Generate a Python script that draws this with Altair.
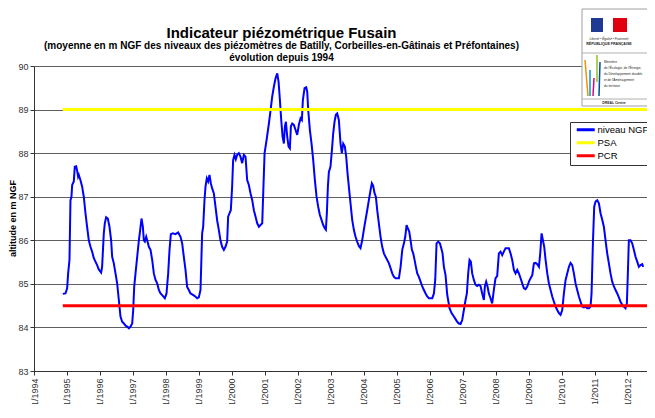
import altair as alt
import pandas as pd
from datetime import datetime

# ---- data (decimal year, level in m NGF) ----
years = [
    1994.874, 1994.955, 1995.006, 1995.036, 1995.077, 1995.107, 1995.137, 1995.158, 1995.208, 1995.238,
    1995.279, 1995.309, 1995.339, 1995.360, 1995.410, 1995.461, 1995.511, 1995.562, 1995.612, 1995.663,
    1995.714, 1995.764, 1995.815, 1995.865, 1995.916, 1995.966, 1996.037, 1996.067, 1996.118, 1996.148,
    1996.189, 1996.239, 1996.290, 1996.340, 1996.371, 1996.421, 1996.472, 1996.522, 1996.573, 1996.623,
    1996.674, 1996.725, 1996.775, 1996.826, 1996.876, 1996.927, 1996.977, 1997.008, 1997.038, 1997.078,
    1997.129, 1997.180, 1997.220, 1997.260, 1997.301, 1997.331, 1997.361, 1997.402, 1997.442, 1997.483,
    1997.533, 1997.584, 1997.634, 1997.685, 1997.736, 1997.786, 1997.837, 1997.887, 1997.968, 1998.019,
    1998.069, 1998.110, 1998.150, 1998.211, 1998.292, 1998.372, 1998.443, 1998.494, 1998.544, 1998.595,
    1998.645, 1998.696, 1998.747, 1998.797, 1998.878, 1998.949, 1998.999, 1999.050, 1999.100, 1999.131,
    1999.171, 1999.202, 1999.242, 1999.282, 1999.323, 1999.363, 1999.404, 1999.454, 1999.505, 1999.555,
    1999.606, 1999.656, 1999.707, 1999.758, 1999.808, 1999.859, 1999.889, 1999.929, 1999.970, 2000.010,
    2000.040, 2000.081, 2000.121, 2000.162, 2000.213, 2000.263, 2000.314, 2000.364, 2000.415, 2000.465,
    2000.516, 2000.566, 2000.618, 2000.668, 2000.719, 2000.769, 2000.820, 2000.870, 2000.921, 2000.951,
    2000.992, 2001.052, 2001.123, 2001.174, 2001.224, 2001.275, 2001.325, 2001.376, 2001.416, 2001.457,
    2001.497, 2001.538, 2001.578, 2001.608, 2001.639, 2001.679, 2001.720, 2001.760, 2001.790, 2001.831,
    2001.881, 2001.932, 2001.982, 2002.033, 2002.084, 2002.124, 2002.154, 2002.205, 2002.255, 2002.286,
    2002.316, 2002.367, 2002.417, 2002.468, 2002.518, 2002.569, 2002.619, 2002.670, 2002.720, 2002.771,
    2002.822, 2002.852, 2002.882, 2002.913, 2002.943, 2002.993, 2003.044, 2003.074, 2003.115, 2003.155,
    2003.196, 2003.246, 2003.297, 2003.337, 2003.378, 2003.428, 2003.469, 2003.509, 2003.549, 2003.600,
    2003.651, 2003.701, 2003.752, 2003.802, 2003.853, 2003.903, 2003.954, 2004.004, 2004.055, 2004.106,
    2004.156, 2004.207, 2004.247, 2004.287, 2004.328, 2004.368, 2004.409, 2004.459, 2004.510, 2004.560,
    2004.611, 2004.661, 2004.712, 2004.763, 2004.813, 2004.864, 2004.914, 2004.965, 2005.015, 2005.066,
    2005.117, 2005.167, 2005.218, 2005.258, 2005.298, 2005.339, 2005.379, 2005.420, 2005.460, 2005.500,
    2005.541, 2005.581, 2005.622, 2005.672, 2005.723, 2005.774, 2005.824, 2005.875, 2005.925, 2005.976,
    2006.026, 2006.077, 2006.128, 2006.168, 2006.208, 2006.259, 2006.309, 2006.350, 2006.390, 2006.431,
    2006.481, 2006.532, 2006.602, 2006.663, 2006.734, 2006.784, 2006.835, 2006.885, 2006.936, 2006.987,
    2007.037, 2007.088, 2007.128, 2007.168, 2007.209, 2007.249, 2007.290, 2007.340, 2007.391, 2007.441,
    2007.492, 2007.543, 2007.593, 2007.644, 2007.674, 2007.714, 2007.755, 2007.795, 2007.846, 2007.896,
    2007.947, 2007.998, 2008.048, 2008.099, 2008.149, 2008.200, 2008.250, 2008.301, 2008.351, 2008.402,
    2008.452, 2008.503, 2008.554, 2008.604, 2008.655, 2008.705, 2008.756, 2008.806, 2008.857, 2008.907,
    2008.958, 2009.009, 2009.059, 2009.110, 2009.160, 2009.211, 2009.261, 2009.312, 2009.352, 2009.393,
    2009.433, 2009.473, 2009.514, 2009.565, 2009.615, 2009.666, 2009.716, 2009.767, 2009.817, 2009.868,
    2009.918, 2009.969, 2010.020, 2010.070, 2010.121, 2010.171, 2010.222, 2010.272, 2010.323, 2010.373,
    2010.424, 2010.474, 2010.525, 2010.576, 2010.626, 2010.677, 2010.727, 2010.778, 2010.828, 2010.879,
    2010.909, 2010.950, 2010.990, 2011.031, 2011.081, 2011.132, 2011.182, 2011.233, 2011.283, 2011.334,
    2011.384, 2011.435, 2011.485, 2011.536, 2011.587, 2011.637, 2011.688, 2011.738, 2011.789, 2011.839,
    2011.890, 2011.940, 2011.981, 2012.011, 2012.041, 2012.092, 2012.142, 2012.193, 2012.243, 2012.294,
    2012.345, 2012.395, 2012.446, 2012.476,
]
niveau = [
    84.77, 84.78, 84.90, 85.24, 85.55, 86.92, 87.00, 87.27, 87.35, 87.69,
    87.70, 87.60, 87.46, 87.50, 87.38, 87.23, 87.00, 86.62, 86.31, 86.00,
    85.85, 85.74, 85.59, 85.51, 85.43, 85.33, 85.26, 85.39, 86.16, 86.39,
    86.53, 86.50, 86.31, 86.00, 85.62, 85.47, 85.24, 85.01, 84.63, 84.25,
    84.13, 84.09, 84.04, 84.02, 83.98, 84.02, 84.09, 84.40, 84.93, 85.24,
    85.62, 86.00, 86.24, 86.50, 86.31, 86.00, 85.97, 86.08, 85.97, 85.85,
    85.78, 85.55, 85.24, 85.09, 85.01, 84.86, 84.78, 84.74, 84.67, 84.78,
    85.24, 85.78, 86.14, 86.16, 86.14, 86.18, 86.08, 85.93, 85.62, 85.32,
    84.93, 84.86, 84.78, 84.76, 84.72, 84.67, 84.69, 84.86, 86.16, 86.31,
    86.92, 87.23, 87.42, 87.35, 87.50, 87.31, 87.19, 87.08, 86.77, 86.46,
    86.24, 86.00, 85.85, 85.78, 85.85, 85.97, 86.54, 86.62, 86.69, 87.23,
    87.84, 87.96, 87.86, 87.96, 88.00, 87.92, 87.77, 87.96, 87.92, 87.38,
    87.27, 87.08, 86.92, 86.69, 86.54, 86.39, 86.31, 86.35, 86.39, 87.08,
    88.00, 88.30, 88.68, 88.99, 89.30, 89.53, 89.72, 89.83, 89.64, 89.22,
    88.76, 88.38, 88.22, 88.61, 88.72, 88.38, 88.15, 88.11, 88.61, 88.68,
    88.65, 88.53, 88.42, 88.65, 88.80, 88.76, 89.22, 89.49, 89.51, 89.41,
    88.99, 88.53, 88.22, 87.84, 87.38, 87.00, 86.77, 86.58, 86.47, 86.35,
    86.27, 86.24, 86.62, 87.23, 87.57, 87.69, 88.15, 88.45, 88.72, 88.88,
    88.91, 88.76, 88.22, 88.00, 88.22, 88.15, 87.92, 87.54, 87.23, 86.85,
    86.47, 86.24, 86.08, 85.97, 85.87, 85.82, 86.00, 86.24, 86.47, 86.69,
    86.92, 87.15, 87.31, 87.25, 87.08, 87.00, 86.69, 86.39, 86.08, 85.85,
    85.70, 85.62, 85.55, 85.47, 85.36, 85.24, 85.16, 85.13, 85.13, 85.13,
    85.39, 85.78, 85.93, 86.08, 86.35, 86.27, 86.20, 86.00, 85.78, 85.70,
    85.55, 85.39, 85.24, 85.16, 85.05, 84.94, 84.86, 84.78, 84.71, 84.67,
    84.67, 84.67, 84.78, 85.09, 85.93, 85.97, 85.93, 85.82, 85.70, 85.39,
    85.20, 84.75, 84.44, 84.33, 84.25, 84.19, 84.13, 84.09, 84.08, 84.17,
    84.40, 84.63, 84.78, 85.24, 85.55, 85.51, 85.24, 85.09, 84.98, 84.95,
    84.98, 84.95, 84.78, 84.63, 84.94, 85.05, 84.94, 84.78, 84.67, 84.55,
    84.86, 85.13, 85.18, 85.70, 85.74, 85.66, 85.74, 85.82, 85.82, 85.82,
    85.70, 85.55, 85.32, 85.24, 85.32, 85.24, 85.13, 85.01, 84.90, 84.88,
    84.94, 85.05, 85.13, 85.20, 85.47, 85.48, 85.45, 85.39, 85.70, 86.16,
    86.00, 85.85, 85.55, 85.24, 85.01, 84.86, 84.71, 84.59, 84.48, 84.40,
    84.33, 84.29, 84.40, 84.78, 85.09, 85.24, 85.39, 85.48, 85.43, 85.24,
    85.01, 84.86, 84.71, 84.59, 84.48, 84.46, 84.48, 84.44, 84.44, 84.48,
    84.78, 85.93, 86.77, 86.89, 86.92, 86.85, 86.62, 86.47, 86.31, 86.00,
    85.70, 85.47, 85.24, 85.05, 84.94, 84.86, 84.78, 84.69, 84.59, 84.52,
    84.48, 84.44, 84.55, 85.24, 86.00, 86.00, 85.93, 85.78, 85.62, 85.51,
    85.39, 85.43, 85.45, 85.39,
]

series_names = ["niveau NGF", "PSA", "PCR"]
series_colors = ["#0000ff", "#ffff00", "#ff0000"]
series_widths = [2.0, 3.0, 3.0]
threshold_levels = [89.0, 84.5]          # PSA, PCR
tick_years = list(range(1994, 2013))
y_ticks = [83, 84, 85, 86, 87, 88, 89, 90]

title_text = "Indicateur piézométrique Fusain"
subtitle_lines = [
    "(moyenne en m NGF des niveaux des piézomètres de Batilly, Corbeilles-en-Gâtinais et Préfontaines)",
    "évolution depuis 1994",
]
y_title = "altitude en m NGF"


def dec_year_to_iso(y):
    yr = int(y)
    start, end = datetime(yr, 1, 1), datetime(yr + 1, 1, 1)
    return (start + (end - start) * (y - yr)).strftime("%Y-%m-%dT%H:%M:%S")


dates = [dec_year_to_iso(y) for y in years]
domain_end = "2012-08-04T00:00:00"

# one long table: the measured series first, then the two threshold lines
rows_date = list(dates)
rows_value = list(niveau)
rows_serie = [series_names[0]] * len(dates)
for name, lvl in zip(series_names[1:], threshold_levels):
    rows_date += [dates[0], domain_end]
    rows_value += [lvl, lvl]
    rows_serie += [name, name]
df = pd.DataFrame({"date": rows_date, "value": rows_value, "serie": rows_serie})
df["w"] = df["serie"].map(dict(zip(series_names, series_widths)))

FONT = "Liberation Sans"

x_scale = alt.Scale(domain=[alt.DateTime(year=1994, month=1, date=1),
                            alt.DateTime(year=2012, month=8, date=4)])
y_scale = alt.Scale(domain=[83, 90], nice=False, zero=False)

x_axis = alt.Axis(
    values=[alt.DateTime(year=y, month=1, date=1) for y in tick_years],
    tickCount=alt.TimeIntervalStep(interval="year", step=1),
    format="%d/%m/%Y", labelAngle=270, labelFontSize=9, labelColor="#333333",
    labelFont=FONT, labelPadding=3, labelOverlap=False, labelSeparation=0,
    labelBound=False, labelFlush=False, tickSize=4,
    tickColor="#333333", domainColor="#333333", grid=False, title=None,
)
y_axis = alt.Axis(
    values=y_ticks, format="d", title=y_title, titleFont=FONT, titleFontSize=9,
    titleFontWeight="bold", titleColor="#000000", titleAngle=270,
    titleX=-22, titleY=152, titleBaseline="middle", titleAlign="center",
    labelFontSize=9, labelColor="#333333", labelFont=FONT, labelPadding=2,
    tickSize=4, tickColor="#333333", domainColor="#333333",
    grid=True, gridColor="#5f5f5f", gridWidth=1,
)

color = alt.Color(
    "serie:N",
    sort=series_names,
    scale=alt.Scale(domain=series_names, range=series_colors),
    legend=alt.Legend(
        title=None, orient="none", legendX=536, legendY=56,
        symbolType="M-1,0H17", symbolSize=4, symbolStrokeWidth=3,
        labelFontSize=9.5, labelFont=FONT, labelColor="#000000", labelOffset=15,
        padding=3, rowPadding=0, strokeColor="#333333", fillColor="#ffffff",
    ),
)

lines = alt.Chart(df).mark_line().encode(
    x=alt.X("date:T", scale=x_scale, axis=x_axis),
    y=alt.Y("value:Q", scale=y_scale, axis=y_axis),
    color=color,
    size=alt.Size("w:Q", scale=None, legend=None),
)

# ---- simplified institutional logo (decoration, top right) ----
one = pd.DataFrame({"k": [0]})


def box(x1, x2, y1, y2, fill, stroke=None):
    kw = {"fill": fill}
    if stroke:
        kw.update(stroke=stroke, strokeWidth=1)
    return alt.Chart(one).mark_rect(**kw).encode(
        x=alt.value(x1), x2=alt.value(x2), y=alt.value(y1), y2=alt.value(y2))


def seg(x1, y1, x2, y2, col, w=1.5):
    return alt.Chart(one).mark_rule(color=col, strokeWidth=w).encode(
        x=alt.value(x1), y=alt.value(y1), x2=alt.value(x2), y2=alt.value(y2))


def txt(s, x, y, size, weight="normal", align="center", style="normal"):
    return alt.Chart(one).mark_text(
        text=s, fontSize=size, fontWeight=weight, align=align, font=FONT,
        fontStyle=style, color="#222222", baseline="middle",
    ).encode(x=alt.value(x), y=alt.value(y))


logo = [
    box(548, 640, -57, 40, "#ffffff", "#a0a0a0"),
    box(557, 569, -48, -34, "#1f3a93"),
    box(579, 593, -48, -34, "#e1000f"),
    txt("Liberté • Égalité • Fraternité", 575, -27, 3.2, style="italic"),
    txt("RÉPUBLIQUE FRANÇAISE", 575, -22, 3.6, weight="bold"),
    seg(548, -13, 640, -13, "#b0b0b0", 1),
    seg(551, -6, 554, 30, "#f39200"),
    seg(556, 4, 556, 30, "#0095d9"),
    seg(560, 12, 559, 30, "#e5007d"),
    seg(563, -11, 563, 16, "#95c11f"),
    seg(566, -4, 565, 30, "#004f9f"),
    txt("Ministère", 570, -4, 3.2, align="left"),
    txt("de l'Écologie, de l'Énergie,", 570, 2, 3.2, align="left"),
    txt("du Développement durable", 570, 8, 3.2, align="left"),
    txt("et de l'Aménagement", 570, 14, 3.2, align="left"),
    txt("du territoire", 570, 20, 3.2, align="left"),
    seg(548, 33, 640, 33, "#b0b0b0", 1),
    txt("DREAL Centre", 580, 37, 3.4, weight="bold"),
]

chart = alt.layer(lines, *logo).properties(
    width=613, height=305,
    title=alt.TitleParams(
        text=title_text, subtitle=subtitle_lines, font=FONT, fontSize=15,
        fontWeight="bold", color="#000000", subtitleFont=FONT,
        subtitleFontSize=10, subtitleFontWeight="bold", subtitleColor="#000000",
        subtitleLineHeight=12, subtitlePadding=0, anchor="middle",
        frame="group", dx=-59, dy=54, offset=0,
    ),
    autosize=alt.AutoSizeParams(type="none"),
    padding={"left": 26, "top": 58, "right": 0, "bottom": 33},
    background="#ffffff",
).configure_view(stroke=None).configure(font=FONT)

chart.save("out.html", embed_options={"renderer": "svg", "actions": False})
